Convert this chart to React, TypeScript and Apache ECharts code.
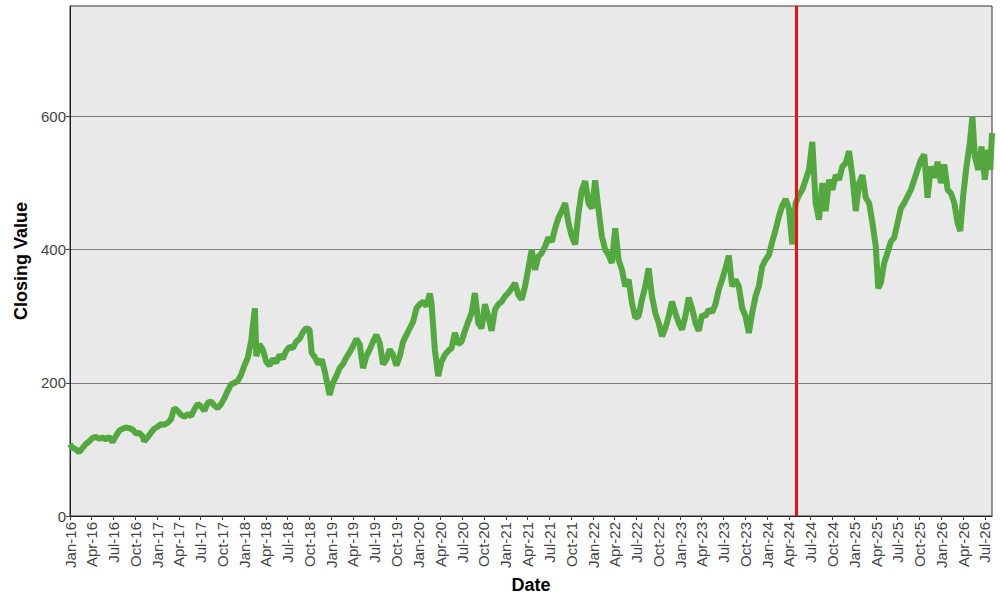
import React, { useEffect, useRef } from "react";
import * as echarts from "echarts";

const dates: string[] = [
  "2016-01-01","2016-01-10","2016-01-25","2016-02-08","2016-02-22","2016-03-07","2016-03-21","2016-04-04","2016-04-18","2016-05-02","2016-05-16","2016-05-30","2016-06-13","2016-06-27","2016-07-11","2016-07-25","2016-08-08","2016-08-22","2016-09-05","2016-09-19","2016-10-03","2016-10-17","2016-10-31","2016-11-07","2016-11-21","2016-12-05","2016-12-19",
  "2017-01-02","2017-01-16","2017-01-30","2017-02-13","2017-02-27","2017-03-13","2017-03-27","2017-04-10","2017-04-24","2017-05-08","2017-05-22","2017-06-05","2017-06-19","2017-07-03","2017-07-17","2017-07-31","2017-08-14","2017-08-28","2017-09-11","2017-09-25","2017-10-09","2017-10-23","2017-11-06","2017-11-20","2017-12-04","2017-12-18",
  "2018-01-01","2018-01-15","2018-01-29","2018-02-05","2018-02-14","2018-02-20","2018-03-05","2018-03-19","2018-04-02","2018-04-16","2018-04-30","2018-05-14","2018-05-28","2018-06-11","2018-06-25","2018-07-09","2018-07-23","2018-08-06","2018-08-20","2018-09-03","2018-09-17","2018-10-01","2018-10-10","2018-10-24","2018-11-07","2018-11-21","2018-12-05","2018-12-24",
  "2019-01-07","2019-01-21","2019-02-04","2019-02-18","2019-03-04","2019-03-18","2019-04-01","2019-04-15","2019-04-29","2019-05-13","2019-05-27","2019-06-10","2019-06-24","2019-07-08","2019-07-22","2019-08-05","2019-08-19","2019-09-02","2019-09-16","2019-09-30","2019-10-14","2019-10-28","2019-11-11","2019-11-25","2019-12-09","2019-12-23",
  "2020-01-06","2020-01-20","2020-02-03","2020-02-17","2020-02-24","2020-03-09","2020-03-23","2020-04-06","2020-04-20","2020-05-04","2020-05-18","2020-06-01","2020-06-15","2020-06-29","2020-07-13","2020-07-27","2020-08-10","2020-08-24","2020-09-07","2020-09-21","2020-10-05","2020-10-19","2020-11-02","2020-11-16","2020-11-30","2020-12-14","2020-12-28",
  "2021-01-11","2021-01-25","2021-02-08","2021-02-22","2021-03-08","2021-03-22","2021-04-05","2021-04-19","2021-05-03","2021-05-17","2021-05-31","2021-06-14","2021-06-28","2021-07-12","2021-07-26","2021-08-09","2021-08-23","2021-09-06","2021-09-20","2021-10-04","2021-10-18","2021-11-01","2021-11-15","2021-11-29","2021-12-13","2021-12-27",
  "2022-01-10","2022-01-24","2022-02-07","2022-02-21","2022-03-07","2022-03-21","2022-04-04","2022-04-18","2022-05-02","2022-05-16","2022-05-30","2022-06-13","2022-06-27","2022-07-11","2022-07-25","2022-08-08","2022-08-22","2022-09-05","2022-09-19","2022-10-03","2022-10-17","2022-10-31","2022-11-14","2022-11-28","2022-12-12","2022-12-26",
  "2023-01-09","2023-01-23","2023-02-06","2023-02-20","2023-03-06","2023-03-20","2023-04-03","2023-04-17","2023-05-01","2023-05-15","2023-05-29","2023-06-12","2023-06-26","2023-07-10","2023-07-24","2023-08-07","2023-08-21","2023-09-04","2023-09-18","2023-10-02","2023-10-16","2023-10-30","2023-11-13","2023-11-27","2023-12-11","2023-12-25",
  "2024-01-08","2024-01-22","2024-02-05","2024-02-19","2024-03-04","2024-03-18","2024-04-01","2024-04-15","2024-04-29","2024-05-13","2024-05-27","2024-06-10","2024-06-24","2024-07-08","2024-07-22","2024-08-05","2024-08-19","2024-09-02","2024-09-16","2024-09-30","2024-10-14","2024-10-28","2024-11-11","2024-11-25","2024-12-09","2024-12-23",
  "2025-01-06","2025-01-20","2025-02-03","2025-02-17","2025-03-03","2025-03-17","2025-03-31","2025-04-10","2025-04-21","2025-05-05","2025-05-19","2025-06-02","2025-06-16","2025-06-30","2025-07-14","2025-07-28","2025-08-11","2025-08-25","2025-09-08","2025-09-22","2025-10-06","2025-10-20","2025-11-03","2025-11-17","2025-12-01","2025-12-15","2025-12-29",
  "2026-01-12","2026-01-26","2026-02-09","2026-02-23","2026-03-09","2026-03-20","2026-04-01","2026-04-15","2026-04-29","2026-05-10","2026-05-20","2026-06-03","2026-06-17","2026-07-01","2026-07-15","2026-07-24","2026-07-31"
];

const closingValues: number[] = [
  108,103,100,96,102,108,112,117,119,116,118,115,119,111,120,128,131,133,132,130,124,125,120,112,118,125,131,
  134,138,137,140,145,162,158,152,149,153,150,160,168,165,158,170,172,166,162,168,177,188,198,200,203,212,
  226,238,262,285,312,240,258,250,232,226,236,230,242,236,248,254,252,262,266,276,282,280,245,238,228,235,215,182,
  200,210,222,228,238,246,255,266,258,222,240,250,262,272,260,228,235,250,242,226,240,262,272,282,292,312,
  318,322,315,334,320,250,210,232,242,248,252,275,258,262,278,292,305,335,290,282,318,300,278,310,318,322,330,
  335,342,350,332,325,345,372,400,370,390,395,405,418,412,432,448,458,470,440,420,408,455,490,503,470,462,
  504,460,420,400,392,380,432,385,370,345,355,320,298,300,325,345,372,330,305,290,270,282,300,322,305,290,
  280,300,328,312,290,278,302,300,310,306,318,340,355,372,391,345,355,345,312,300,275,305,330,345,375,385,
  392,412,430,450,466,476,462,408,470,482,490,505,520,562,470,445,500,458,505,490,512,505,525,530,548,510,
  458,500,512,478,470,440,405,342,350,380,395,412,418,440,462,470,480,490,505,520,535,543,478,525,508,532,500,
  528,490,485,470,440,428,480,525,560,600,540,520,555,505,550,520,575
];

const tickDates: string[] = [
  "2016-01-01","2016-04-01","2016-07-01","2016-10-01",
  "2017-01-01","2017-04-01","2017-07-01","2017-10-01",
  "2018-01-01","2018-04-01","2018-07-01","2018-10-01",
  "2019-01-01","2019-04-01","2019-07-01","2019-10-01",
  "2020-01-01","2020-04-01","2020-07-01","2020-10-01",
  "2021-01-01","2021-04-01","2021-07-01","2021-10-01",
  "2022-01-01","2022-04-01","2022-07-01","2022-10-01",
  "2023-01-01","2023-04-01","2023-07-01","2023-10-01",
  "2024-01-01","2024-04-01","2024-07-01","2024-10-01",
  "2025-01-01","2025-04-01","2025-07-01","2025-10-01",
  "2026-01-01","2026-04-01","2026-07-01"
];

const monthNames: string[] = ["Jan","Feb","Mar","Apr","May","Jun","Jul","Aug","Sep","Oct","Nov","Dec"];
const yTicks: number[] = [0, 200, 400, 600];
const markerDate = "2024-05-01";
const xStart = "2016-01-01";
const xEnd = "2026-07-31";
const yMax = 766;

function fmtDate(v: number): string {
  const d = new Date(v);
  const yy = String(d.getUTCFullYear() % 100).padStart(2, "0");
  return monthNames[d.getUTCMonth()] + "-" + yy;
}

export default function App() {
  const ref = useRef<HTMLDivElement>(null);
  useEffect(() => {
    if (!ref.current) return;
    const chart = echarts.init(ref.current, undefined, { renderer: "svg" });
    const seriesData = dates.map((d, i) => [Date.parse(d), closingValues[i]]);
    const tickVals = tickDates.map((d) => Date.parse(d));
    chart.setOption({
      animation: false,
      backgroundColor: "#ffffff",
      grid: {
        left: 70,
        right: 8,
        top: 6,
        bottom: 84,
        show: true,
        backgroundColor: "#e9e9e9",
        borderColor: "#333333",
        borderWidth: 1,
        containLabel: false,
      },
      xAxis: {
        type: "value",
        min: Date.parse(xStart),
        max: Date.parse(xEnd),
        name: "Date",
        nameLocation: "middle",
        nameGap: 57,
        nameTextStyle: {
          fontFamily: "Liberation Sans, Arial, sans-serif",
          fontWeight: "bold",
          fontSize: 18,
          color: "#000000",
        },
        axisLine: { show: true, onZero: false, lineStyle: { color: "#222222", width: 1 } },
        axisTick: {
          show: true,
          customValues: tickVals,
          length: 4,
          lineStyle: { color: "#444444" },
        },
        axisLabel: {
          customValues: tickVals,
          rotate: 90,
          margin: 6,
          fontFamily: "Liberation Sans, Arial, sans-serif",
          fontSize: 15,
          color: "#444444",
          formatter: (v: number) => fmtDate(v),
          hideOverlap: false,
        },
        splitLine: { show: false },
      },
      yAxis: {
        type: "value",
        min: 0,
        max: yMax,
        interval: 200,
        name: "Closing Value",
        nameLocation: "middle",
        nameGap: 40,
        nameTextStyle: {
          fontFamily: "Liberation Sans, Arial, sans-serif",
          fontWeight: "bold",
          fontSize: 18,
          color: "#000000",
        },
        axisLine: { show: true, onZero: false, lineStyle: { color: "#222222", width: 1 } },
        axisTick: {
          show: true,
          customValues: yTicks,
          length: 4,
          lineStyle: { color: "#444444" },
        },
        axisLabel: {
          customValues: yTicks,
          margin: 4,
          fontFamily: "Liberation Sans, Arial, sans-serif",
          fontSize: 15,
          color: "#444444",
        },
        splitLine: { show: true, lineStyle: { color: "#7a7a7a", width: 1 } },
      },
      series: [
        {
          type: "line",
          data: seriesData,
          showSymbol: false,
          symbol: "none",
          lineStyle: { color: "#53a93f", width: 6 },
          itemStyle: { color: "#53a93f" },
          markLine: {
            silent: true,
            symbol: ["none", "none"],
            label: { show: false },
            lineStyle: { color: "#ee1111", width: 3, type: "solid" },
            data: [{ xAxis: Date.parse(markerDate) }],
          },
        },
      ],
    });
    return () => chart.dispose();
  }, []);
  return (
    <div
      ref={ref}
      style={{ position: "fixed", left: 0, top: 0, width: 1000, height: 600 }}
    />
  );
}
